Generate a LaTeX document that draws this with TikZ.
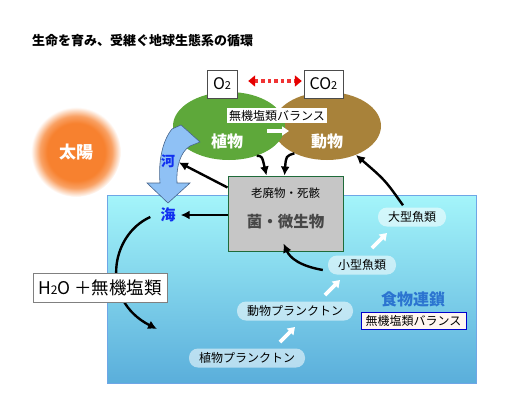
\documentclass[tikz,border=0pt]{standalone}
\usepackage{fontspec}
\setmainfont{Noto Sans CJK JP}
\usetikzlibrary{arrows.meta,shapes.geometric,calc}
\definecolor{seatop}{HTML}{A4F5FA}
\definecolor{seabot}{HTML}{5AAEDB}
\definecolor{seaedge}{HTML}{6EA6E6}
\definecolor{plantg}{HTML}{5EA83A}
\definecolor{animalb}{HTML}{A8823A}
\definecolor{sunor}{HTML}{F7812F}
\definecolor{greybox}{HTML}{C6C6C6}
\definecolor{greyedge}{HTML}{1F6B3A}
\definecolor{kanji}{HTML}{1030F0}
\definecolor{chainblue}{HTML}{2B74D0}
\definecolor{river}{HTML}{8FC1F5}
\definecolor{riveredge}{HTML}{47658C}
\definecolor{redarrow}{HTML}{F03434}
\definecolor{balbg}{HTML}{FFF6F0}
\pgfdeclareradialshading{sunglow}{\pgfpoint{0bp}{0bp}}{color(0bp)=(sunor); color(16bp)=(sunor); color(20bp)=(sunor!75!white); color(25bp)=(white); color(50bp)=(white)}
\newcommand{\fs}[1]{\fontsize{#1}{#1}\selectfont}
\begin{document}
\begin{tikzpicture}[x=1pt,y=-1pt,
  blk/.style={line width=2.4pt,-{Latex[length=9pt,width=9pt]}},
  wht/.style={white,line width=3.6pt,-{Triangle[length=7pt,width=9pt]}},
  fishbox/.style={fill=white,fill opacity=0.55,text opacity=1,rounded corners=9pt,minimum height=19pt,inner xsep=10pt,font=\fs{12}},
  gasbox/.style={draw=black!70,fill=white,minimum height=28pt,font=\fs{16}},
  balbox/.style={fill=white,inner sep=2pt,font=\fs{12}},
  blob/.style={ellipse,minimum width=110pt,minimum height=68pt,inner sep=0pt}]
\useasboundingbox (0,0) rectangle (512,416);
% title
\node[anchor=west,font=\fs{13}\bfseries,inner sep=0pt] (title) at (32,41) {生命を育み、受継ぐ地球生態系の循環};
% sea
\shade[top color=seatop,bottom color=seabot,draw=seaedge,line width=0.8pt] (107,195) rectangle (476,383);
% sun
\shade[shading=sunglow] (76,152) circle (45);
\node[font=\fs{17}\bfseries,text=white] (sun) at (76,152) {太陽};
% ellipses
\node[blob,fill=animalb,minimum width=108pt] (animal) at (327,126) {};
\node[blob,fill=plantg,minimum width=112pt] (plant) at (229,126) {};
\node[font=\fs{16}\bfseries,text=white] (plantlbl) at (227,141) {植物};
\node[font=\fs{16}\bfseries,text=white] (animallbl) at (327,141) {動物};
\node[balbox] (bal1) at (277,115.5) {無機塩類バランス};
\draw[wht] ($(plant.center)+(38,5)$) coordinate (pa1) -- ($(plant.center)+(60,5)$) coordinate (pa2);
% gas boxes
\node[gasbox,minimum width=30pt] (o2) at (222,84) {O{\fs{11}2}};
\node[gasbox,minimum width=39pt] (co2) at (323.5,84) {CO{\fs{11}2}};
\draw[redarrow,line width=3.6pt,dash pattern=on 3.5pt off 3pt,{Triangle[length=7pt,width=11pt,fill=red!90!black,color=red!90!black]}-{Triangle[length=7pt,width=11pt,fill=red!90!black,color=red!90!black]},shorten <=11pt,shorten >=2pt] ([yshift=3pt]o2.east) -- ([yshift=3pt]co2.west);
% river arrow
\draw[fill=river,draw=riveredge,line width=0.6pt]
  (172,129) -- (181,125) -- (200,142) -- (190,146)
  .. controls (180,152) and (176,168) .. (177,183)
  -- (190,183) -- (168,203) -- (147,183) -- (160,183)
  .. controls (158,160) and (163,140) .. (172,129) -- cycle;
\node[font=\fs{14}\bfseries,text=kanji,inner sep=1pt] (kawa) at (168,161) {河};
\node[font=\fs{15}\bfseries,text=kanji,inner sep=1pt] (umi) at (168,215) {海};
% grey box
\node[draw=greyedge,fill=greybox,line width=1pt,minimum width=115pt,minimum height=75pt] (germ) at (285.5,213.5) {};
\node[font=\fs{11.5}] (waste) at (285.5,193) {老廃物・死骸};
\node[font=\fs{15.5}\bfseries,text=black!72] (germlbl) at (285.5,222) {菌・微生物};
% arrows to grey box
\draw[blk] (plant.-47) .. controls (262,156) .. ([xshift=-19pt]germ.north);
\draw[blk] (animal.-140) .. controls (286,156) .. ([xshift=-1pt]germ.north);
\draw[blk,shorten >=3pt] ([yshift=-12pt]germ.north west) -- (kawa.east);
\draw[blk,shorten >=4pt] (germ.west |- umi) -- (umi.east);
% food chain
\node[fishbox] (bigfish) at (412,217) {大型魚類};
\node[fishbox] (smallfish) at (362,265) {小型魚類};
\node[fishbox] (zoopl) at (295,311) {動物プランクトン};
\node[fishbox] (phypl) at (247,358) {植物プランクトン};
\draw[wht] (280,342) coordinate (w1a) -- (295,327) coordinate (w1b);
\draw[wht] (325,295) coordinate (w2a) -- (340,280) coordinate (w2b);
\draw[wht] (372,248) coordinate (w3a) -- (387,233) coordinate (w3b);
\draw[blk] ([xshift=-9pt,yshift=2pt]bigfish.north) .. controls (385,180) .. (animal.-45);
\draw[blk] ([xshift=-5pt,yshift=-5pt]smallfish.west) .. controls (300,266) and (290,258) .. ([xshift=-2pt,yshift=8pt]germ.south);
\node[font=\fs{16}\bfseries,text=chainblue] (chain) at (413,299) {食物連鎖};
\node[draw=blue!80!black,fill=balbg,line width=0.8pt,inner sep=2pt,minimum width=105pt,minimum height=17pt,font=\fs{12}] (bal2) at (413.5,320.5) {無機塩類バランス};
% sea to H2O arrow
\coordinate (sink) at (157,329);
\draw[blk] ([xshift=-9pt,yshift=-2pt]umi.west) .. controls (110,235) and (100,300) .. (sink);
\node[draw=black!50,fill=white,line width=0.8pt,minimum width=134pt,minimum height=29pt,font=\fs{17.5}] (h2o) at (100,287.5) {H{\fs{12}2}O ＋無機塩類};
\end{tikzpicture}
\end{document}
